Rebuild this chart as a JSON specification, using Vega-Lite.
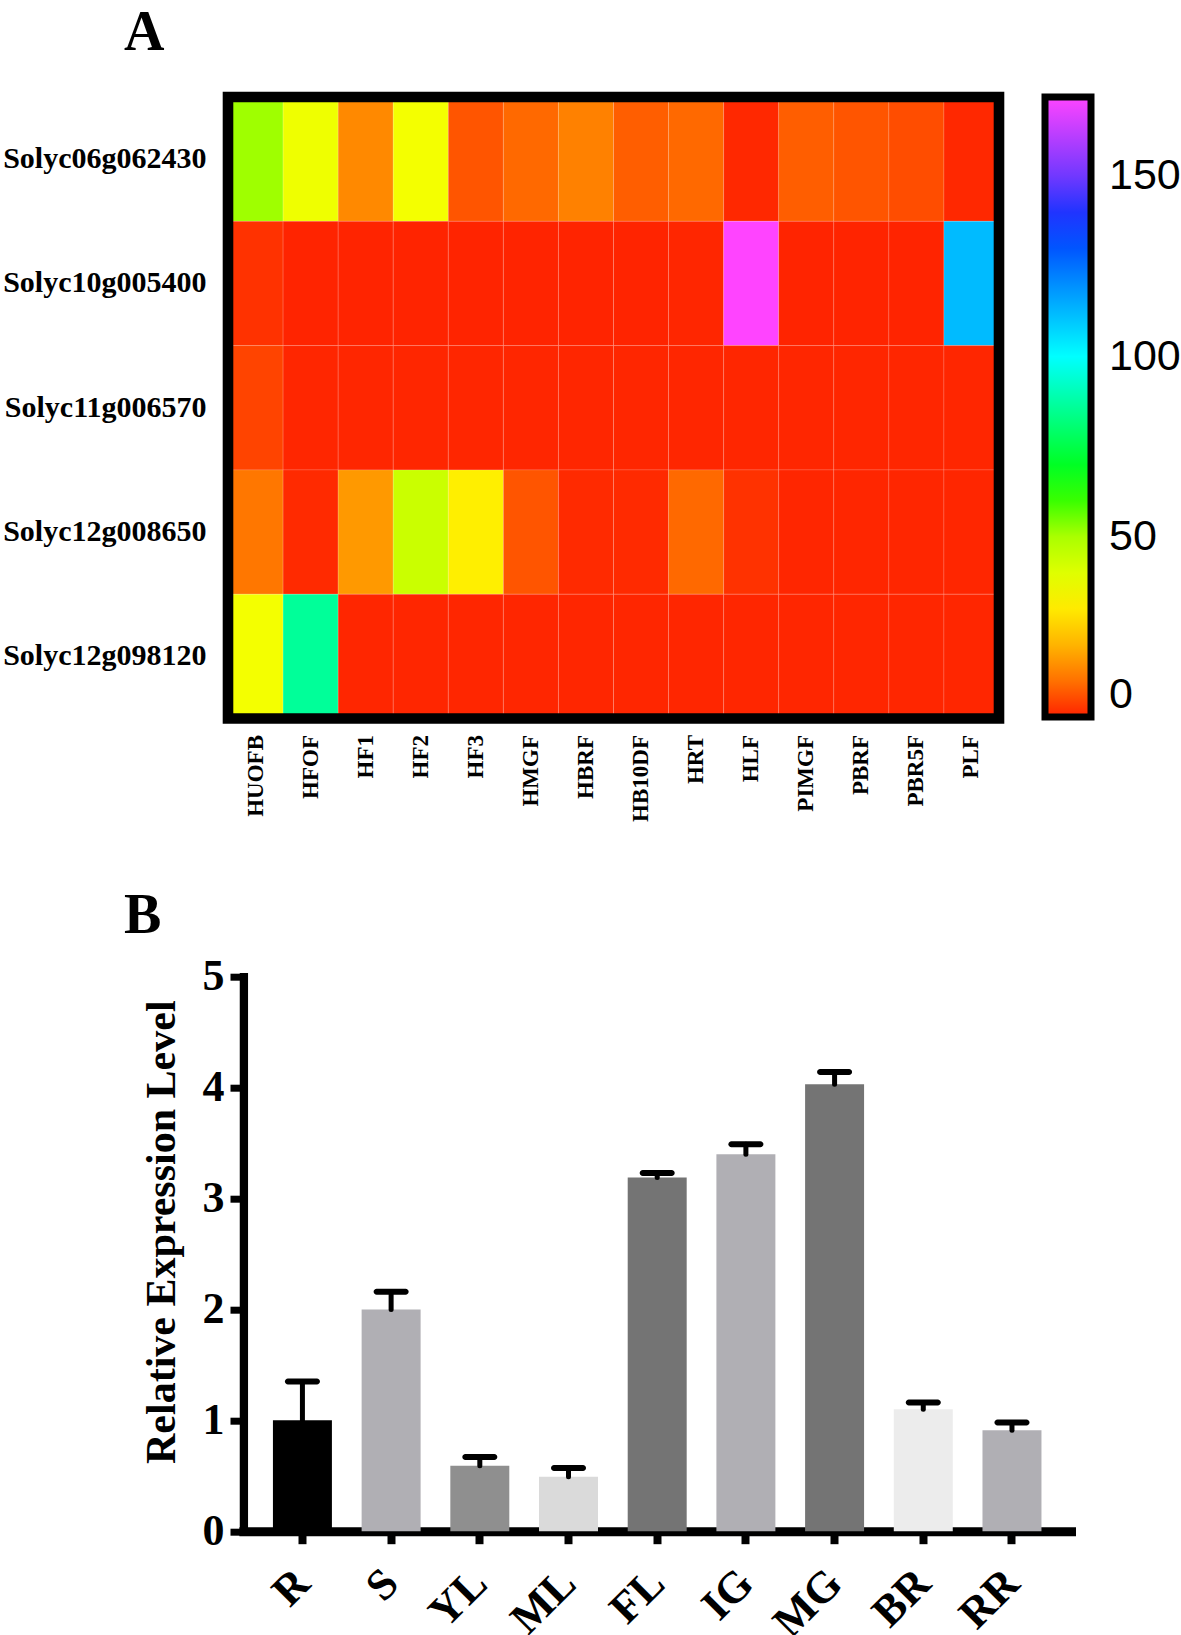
{
  "$schema": "https://vega.github.io/schema/vega-lite/v6.json",
  "background": "white",
  "padding": {"left": 2, "top": 5, "right": 0, "bottom": 0},
  "config": {"view": {"stroke": null}, "font": "Liberation Serif"},
  "bounds": "flush",
  "spacing": 257.7,
  "resolve": {"scale": {"color": "independent"}, "legend": {"color": "independent"}},
  "vconcat": [
    {
      "title": {"text": "A", "anchor": "start", "frame": "group", "dx": -104, "offset": -14.7, "fontSize": 56, "font": "Liberation Serif", "fontWeight": "bold", "color": "black", "baseline": "alphabetic"},
      "width": 771,
      "height": 621.5,
      "data": {"values": [
        {"gene": "Solyc06g062430", "tissue": "HUOFB", "value": 51},
        {"gene": "Solyc06g062430", "tissue": "HFOF", "value": 37},
        {"gene": "Solyc06g062430", "tissue": "HF1", "value": 13},
        {"gene": "Solyc06g062430", "tissue": "HF2", "value": 36},
        {"gene": "Solyc06g062430", "tissue": "HF3", "value": 6.4},
        {"gene": "Solyc06g062430", "tissue": "HMGF", "value": 9},
        {"gene": "Solyc06g062430", "tissue": "HBRF", "value": 12},
        {"gene": "Solyc06g062430", "tissue": "HB10DF", "value": 7.6},
        {"gene": "Solyc06g062430", "tissue": "HRT", "value": 9},
        {"gene": "Solyc06g062430", "tissue": "HLF", "value": 0.8},
        {"gene": "Solyc06g062430", "tissue": "PIMGF", "value": 7.6},
        {"gene": "Solyc06g062430", "tissue": "PBRF", "value": 6.4},
        {"gene": "Solyc06g062430", "tissue": "PBR5F", "value": 5.4},
        {"gene": "Solyc06g062430", "tissue": "PLF", "value": 0.8},
        {"gene": "Solyc10g005400", "tissue": "HUOFB", "value": 2},
        {"gene": "Solyc10g005400", "tissue": "HFOF", "value": 0.3},
        {"gene": "Solyc10g005400", "tissue": "HF1", "value": 0.3},
        {"gene": "Solyc10g005400", "tissue": "HF2", "value": 0.3},
        {"gene": "Solyc10g005400", "tissue": "HF3", "value": 0.3},
        {"gene": "Solyc10g005400", "tissue": "HMGF", "value": 0.3},
        {"gene": "Solyc10g005400", "tissue": "HBRF", "value": 0.3},
        {"gene": "Solyc10g005400", "tissue": "HB10DF", "value": 0.3},
        {"gene": "Solyc10g005400", "tissue": "HRT", "value": 0.5},
        {"gene": "Solyc10g005400", "tissue": "HLF", "value": 172},
        {"gene": "Solyc10g005400", "tissue": "PIMGF", "value": 0.3},
        {"gene": "Solyc10g005400", "tissue": "PBRF", "value": 0.3},
        {"gene": "Solyc10g005400", "tissue": "PBR5F", "value": 0.3},
        {"gene": "Solyc10g005400", "tissue": "PLF", "value": 112},
        {"gene": "Solyc11g006570", "tissue": "HUOFB", "value": 4.3},
        {"gene": "Solyc11g006570", "tissue": "HFOF", "value": 0.5},
        {"gene": "Solyc11g006570", "tissue": "HF1", "value": 0.5},
        {"gene": "Solyc11g006570", "tissue": "HF2", "value": 0.5},
        {"gene": "Solyc11g006570", "tissue": "HF3", "value": 0.5},
        {"gene": "Solyc11g006570", "tissue": "HMGF", "value": 0.5},
        {"gene": "Solyc11g006570", "tissue": "HBRF", "value": 0.5},
        {"gene": "Solyc11g006570", "tissue": "HB10DF", "value": 0.5},
        {"gene": "Solyc11g006570", "tissue": "HRT", "value": 0.5},
        {"gene": "Solyc11g006570", "tissue": "HLF", "value": 0.5},
        {"gene": "Solyc11g006570", "tissue": "PIMGF", "value": 0.5},
        {"gene": "Solyc11g006570", "tissue": "PBRF", "value": 0.5},
        {"gene": "Solyc11g006570", "tissue": "PBR5F", "value": 0.5},
        {"gene": "Solyc11g006570", "tissue": "PLF", "value": 0.5},
        {"gene": "Solyc12g008650", "tissue": "HUOFB", "value": 10.7},
        {"gene": "Solyc12g008650", "tissue": "HFOF", "value": 1},
        {"gene": "Solyc12g008650", "tissue": "HF1", "value": 15},
        {"gene": "Solyc12g008650", "tissue": "HF2", "value": 44},
        {"gene": "Solyc12g008650", "tissue": "HF3", "value": 31},
        {"gene": "Solyc12g008650", "tissue": "HMGF", "value": 6.4},
        {"gene": "Solyc12g008650", "tissue": "HBRF", "value": 1},
        {"gene": "Solyc12g008650", "tissue": "HB10DF", "value": 1},
        {"gene": "Solyc12g008650", "tissue": "HRT", "value": 9},
        {"gene": "Solyc12g008650", "tissue": "HLF", "value": 2},
        {"gene": "Solyc12g008650", "tissue": "PIMGF", "value": 0.5},
        {"gene": "Solyc12g008650", "tissue": "PBRF", "value": 0.5},
        {"gene": "Solyc12g008650", "tissue": "PBR5F", "value": 0.5},
        {"gene": "Solyc12g008650", "tissue": "PLF", "value": 0.5},
        {"gene": "Solyc12g098120", "tissue": "HUOFB", "value": 36},
        {"gene": "Solyc12g098120", "tissue": "HFOF", "value": 86},
        {"gene": "Solyc12g098120", "tissue": "HF1", "value": 0.5},
        {"gene": "Solyc12g098120", "tissue": "HF2", "value": 0.5},
        {"gene": "Solyc12g098120", "tissue": "HF3", "value": 0.5},
        {"gene": "Solyc12g098120", "tissue": "HMGF", "value": 0.5},
        {"gene": "Solyc12g098120", "tissue": "HBRF", "value": 0.5},
        {"gene": "Solyc12g098120", "tissue": "HB10DF", "value": 0.5},
        {"gene": "Solyc12g098120", "tissue": "HRT", "value": 0.5},
        {"gene": "Solyc12g098120", "tissue": "HLF", "value": 0.5},
        {"gene": "Solyc12g098120", "tissue": "PIMGF", "value": 0.5},
        {"gene": "Solyc12g098120", "tissue": "PBRF", "value": 0.5},
        {"gene": "Solyc12g098120", "tissue": "PBR5F", "value": 0.5},
        {"gene": "Solyc12g098120", "tissue": "PLF", "value": 0.5}
      ]},
      "layer": [
        {
          "mark": {"type": "rect", "stroke": "#ffffff", "strokeOpacity": 0.15, "strokeWidth": 1},
          "encoding": {
            "x": {"field": "tissue", "type": "nominal",
              "sort": ["HUOFB", "HFOF", "HF1", "HF2", "HF3", "HMGF", "HBRF", "HB10DF", "HRT", "HLF", "PIMGF", "PBRF", "PBR5F", "PLF"],
              "scale": {"paddingInner": 0, "paddingOuter": 0},
              "axis": {"title": null, "labelAngle": -90, "labelFont": "Liberation Serif", "labelFontWeight": "bold", "labelFontSize": 23, "labelColor": "black", "labelPadding": 16, "ticks": false, "tickSize": 0, "domain": false}},
            "y": {"field": "gene", "type": "nominal",
              "sort": ["Solyc06g062430", "Solyc10g005400", "Solyc11g006570", "Solyc12g008650", "Solyc12g098120"],
              "scale": {"paddingInner": 0, "paddingOuter": 0},
              "axis": {"title": null, "labelFont": "Liberation Serif", "labelFontWeight": "bold", "labelFontSize": 30, "labelColor": "black", "labelPadding": 22, "labelLimit": 0, "ticks": false, "tickSize": 0, "domain": false}},
            "color": {"field": "value", "type": "quantitative",
              "scale": {"domain": [0, 15, 34, 50, 65, 100, 136, 150, 172],
                "range": ["#ff2200", "#ff9900", "#ffff00", "#aaff00", "#00ff00", "#00ffff", "#0033ff", "#7038ff", "#ff44ff"],
                "interpolate": "rgb"},
              "legend": {"title": null, "orient": "right", "direction": "vertical", "offset": 45.5, "padding": 0,
                "values": [0, 50, 100, 150], "gradientLength": 620, "gradientThickness": 46,
                "gradientStrokeColor": "black", "gradientStrokeWidth": 7,
                "labelFont": "Liberation Sans", "labelFontSize": 43, "labelColor": "black", "labelOffset": 18,
                "labelBaseline": "middle", "labelOverlap": false}}
          }
        },
        {
          "data": {"values": [{}]},
          "mark": {"type": "rect", "fillOpacity": 0, "stroke": "black", "strokeWidth": 10.6}
        }
      ]
    },
    {
      "title": {"text": "B", "anchor": "start", "frame": "group", "dx": -104, "offset": -34, "fontSize": 56, "font": "Liberation Serif", "fontWeight": "bold", "color": "black", "baseline": "alphabetic"},
      "width": 843,
      "height": 554.5,
      "data": {"values": [
        {"tissue": "R", "mean": 1.0, "upper": 1.35},
        {"tissue": "S", "mean": 2.0, "upper": 2.16},
        {"tissue": "YL", "mean": 0.59, "upper": 0.67},
        {"tissue": "ML", "mean": 0.49, "upper": 0.57},
        {"tissue": "FL", "mean": 3.19, "upper": 3.23},
        {"tissue": "IG", "mean": 3.4, "upper": 3.49},
        {"tissue": "MG", "mean": 4.03, "upper": 4.14},
        {"tissue": "BR", "mean": 1.1, "upper": 1.16},
        {"tissue": "RR", "mean": 0.91, "upper": 0.98}
      ]},
      "encoding": {
        "x": {"field": "tissue", "type": "nominal",
          "sort": ["R", "S", "YL", "ML", "FL", "IG", "MG", "BR", "RR"],
          "scale": {"range": [15.4, 843], "paddingInner": 0.335, "paddingOuter": 0.333, "align": 0.5},
          "axis": {"title": null, "labelAngle": -45, "labelFont": "Liberation Serif", "labelFontWeight": "bold", "labelFontSize": 44, "labelColor": "black", "labelPadding": 17, "labelOffset": -15,
            "tickSize": 12.5, "tickWidth": 8, "tickColor": "black", "domainWidth": 9, "domainColor": "black", "domainCap": "square"}}
      },
      "layer": [
        {
          "mark": {"type": "bar"},
          "encoding": {
            "y": {"field": "mean", "type": "quantitative",
              "scale": {"domain": [0, 5]},
              "axis": {"title": "Relative Expression Level", "titleFont": "Liberation Serif", "titleFontWeight": "bold", "titleFontSize": 42, "titleColor": "black", "titlePadding": 19, "titleY": 255,
                "values": [0, 1, 2, 3, 4, 5], "format": "d", "grid": false,
                "labelFont": "Liberation Serif", "labelFontWeight": "bold", "labelFontSize": 44, "labelColor": "black", "labelPadding": 6,
                "tickSize": 13.4, "tickWidth": 7, "tickColor": "black", "domainWidth": 8.3, "domainColor": "black", "domainCap": "square", "offset": -15.4}},
            "color": {"field": "tissue", "type": "nominal",
              "scale": {"domain": ["R", "S", "YL", "ML", "FL", "IG", "MG", "BR", "RR"],
                "range": ["#000000", "#b0afb4", "#8f8f8f", "#dadada", "#747474", "#b0afb4", "#747474", "#ececec", "#b0afb4"]},
              "legend": null}
          }
        },
        {
          "mark": {"type": "rule", "strokeWidth": 5, "strokeCap": "round", "color": "black"},
          "encoding": {"y": {"field": "mean", "type": "quantitative"}, "y2": {"field": "upper"}}
        },
        {
          "mark": {"type": "tick", "size": 35, "thickness": 6, "color": "black", "cornerRadius": 3, "opacity": 1},
          "encoding": {"y": {"field": "upper", "type": "quantitative"}}
        }
      ]
    }
  ]
}
